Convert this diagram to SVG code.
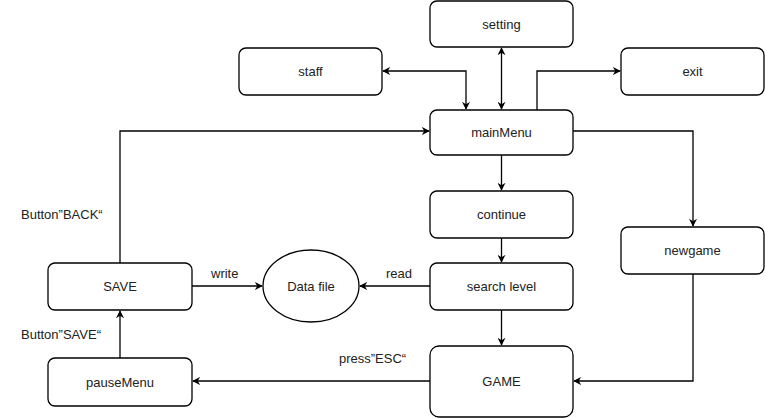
<svg xmlns="http://www.w3.org/2000/svg" width="765" height="418" viewBox="0 0 765 418">
<style>
.n{fill:#fff;stroke:#000;stroke-width:1.3}
.t{font-family:"Liberation Sans",Arial,sans-serif;font-size:13px;fill:#222;text-anchor:middle;dominant-baseline:central}
.l{font-family:"Liberation Sans",Arial,sans-serif;font-size:13px;fill:#222;dominant-baseline:central}
.c{fill:none;stroke:#000;stroke-width:1.3}
</style>
<defs>
<marker id="a" viewBox="0 0 10 10" refX="9" refY="5" markerWidth="8" markerHeight="8" orient="auto-start-reverse" markerUnits="userSpaceOnUse">
<path d="M0,0 L10,5 L0,10 L3,5 Z" fill="#000"/>
</marker>
</defs>
<rect width="765" height="418" fill="#fff"/>
<g id="connectors">
<path class="c" d="M383,71 H466 V109" marker-start="url(#a)" marker-end="url(#a)"/>
<path class="c" d="M501.5,48 V109" marker-start="url(#a)" marker-end="url(#a)"/>
<path class="c" d="M537,110 V71 H620" marker-end="url(#a)"/>
<path class="c" d="M573,131 H693 V226" marker-end="url(#a)"/>
<path class="c" d="M501.5,155 V190" marker-end="url(#a)"/>
<path class="c" d="M501.5,238 V262" marker-end="url(#a)"/>
<path class="c" d="M430,286 H360" marker-end="url(#a)"/>
<path class="c" d="M192,286 H262" marker-end="url(#a)"/>
<path class="c" d="M501.5,310 V345" marker-end="url(#a)"/>
<path class="c" d="M693,274 V381 H574" marker-end="url(#a)"/>
<path class="c" d="M430,381 H193" marker-end="url(#a)"/>
<path class="c" d="M120,358 V311" marker-end="url(#a)"/>
<path class="c" d="M120,263 V131 H429" marker-end="url(#a)"/>
<text class="l" x="211" y="273">write</text>
<text class="l" x="386" y="273">read</text>
<text class="l" x="21" y="214">Button”BACK“</text>
<text class="l" x="21" y="334">Button”SAVE“</text>
<text class="l" x="339" y="358">press”ESC“</text>
</g>
<g id="setting"><rect class="n" x="430" y="1" width="143" height="46" rx="7"/><text class="t" x="501.5" y="24">setting</text></g>
<g id="staff"><rect class="n" x="239" y="48" width="143" height="47" rx="7"/><text class="t" x="310.5" y="71.5">staff</text></g>
<g id="exit"><rect class="n" x="621" y="48" width="143" height="47" rx="7"/><text class="t" x="692.5" y="71.5">exit</text></g>
<g id="mainMenu"><rect class="n" x="430" y="110" width="143" height="45" rx="7"/><text class="t" x="501.5" y="132.5">mainMenu</text></g>
<g id="continue"><rect class="n" x="430" y="191" width="143" height="47" rx="7"/><text class="t" x="501.5" y="214.5">continue</text></g>
<g id="newgame"><rect class="n" x="621" y="227" width="143" height="47" rx="7"/><text class="t" x="692.5" y="250.5">newgame</text></g>
<g id="searchLevel"><rect class="n" x="430" y="263" width="143" height="47" rx="7"/><text class="t" x="501.5" y="286.5">search level</text></g>
<g id="dataFile"><ellipse class="n" cx="311" cy="286" rx="48" ry="36"/><text class="t" x="311" y="286">Data file</text></g>
<g id="SAVE"><rect class="n" x="48" y="263" width="144" height="47" rx="7"/><text class="t" x="120" y="286.5">SAVE</text></g>
<g id="GAME"><rect class="n" x="430" y="346" width="143" height="71" rx="9"/><text class="t" x="501.5" y="381">GAME</text></g>
<g id="pauseMenu"><rect class="n" x="48" y="358" width="144" height="48" rx="7"/><text class="t" x="120" y="382">pauseMenu</text></g>
</svg>
